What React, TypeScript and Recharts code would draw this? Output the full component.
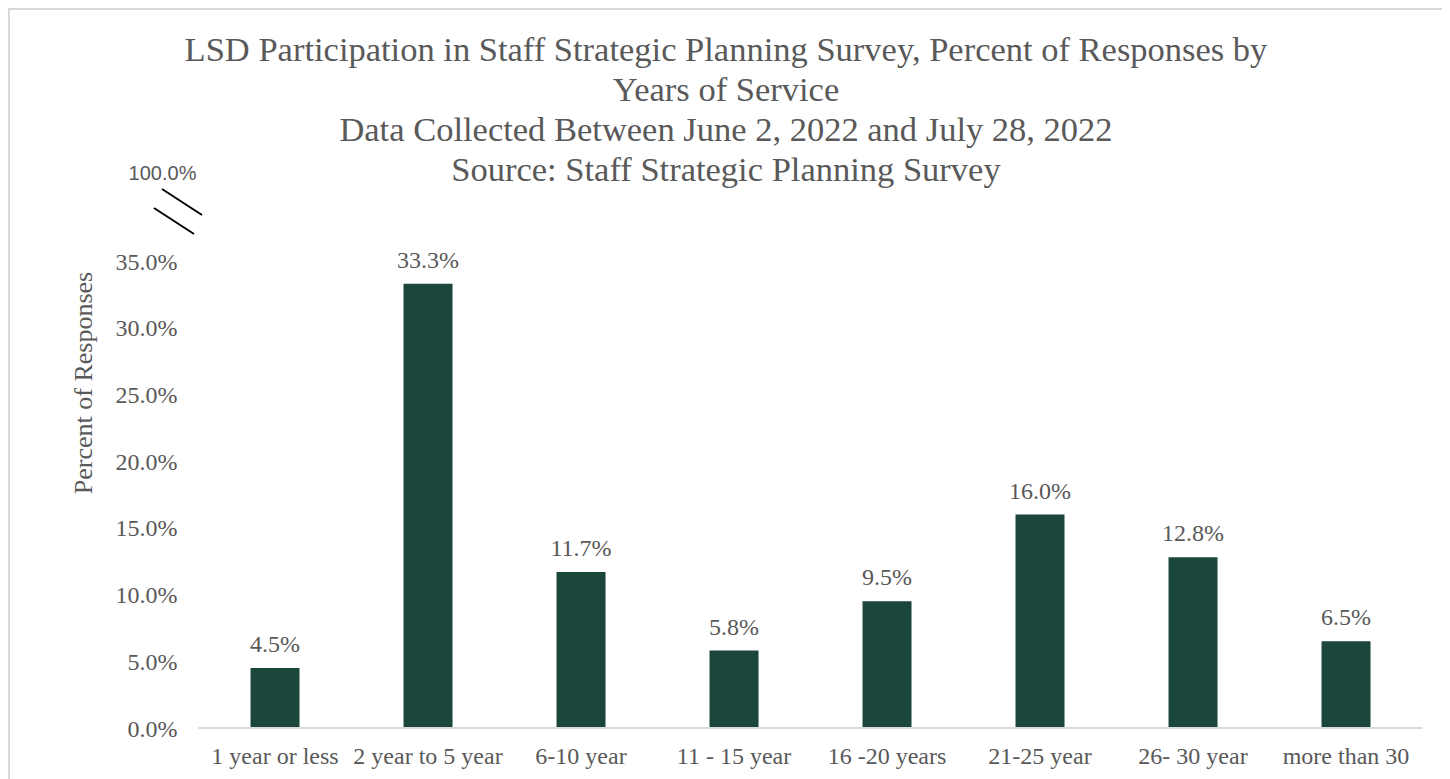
import React from "react";
import { BarChart, Bar, XAxis, YAxis, LabelList } from "recharts";

const categories = ["1 year or less", "2 year to 5 year", "6-10 year", "11 - 15 year", "16 -20 years", "21-25 year", "26- 30 year", "more than 30"];
const percents = [4.5, 33.3, 11.7, 5.8, 9.5, 16.0, 12.8, 6.5];
const yTicks = [0, 5, 10, 15, 20, 25, 30, 35];
const titleLines = [
  "LSD Participation in Staff Strategic Planning Survey, Percent of Responses by",
  "Years of Service",
  "Data Collected Between June 2, 2022 and July 28, 2022",
  "Source: Staff Strategic Planning Survey",
];
const yAxisTitle = "Percent of Responses";
const breakLabel = "100.0%";

const data = categories.map((c, i) => ({ name: c, value: percents[i] }));

const SERIF = "'Liberation Serif', 'Times New Roman', serif";
const GRAY = "#595959";

export default function App() {
  return (
    <div style={{ position: "relative", width: 1432, height: 800, border: "2px solid #d9d9d9", background: "#fff" }}>
      <div style={{ position: "absolute", left: 0, top: 19, width: 1432, textAlign: "center", fontFamily: SERIF, fontSize: 34.5, lineHeight: "40px", color: GRAY }}>
        {titleLines.map((t, i) => (
          <div key={i}>{t}</div>
        ))}
      </div>
      <div style={{ position: "absolute", left: 0, top: 0 }}>
        <BarChart width={1432} height={800} data={data} margin={{ top: 251, right: 19.5, left: 88.5, bottom: 42 }} barCategoryGap="34%">
          <XAxis dataKey="name" axisLine={{ stroke: "#d9d9d9", strokeWidth: 2 }} tickLine={false} tickSize={0} tickMargin={19} interval={0}
            tick={{ fill: GRAY, fontFamily: SERIF, fontSize: 24 }} height={40} />
          <YAxis width={100} domain={[0, 35]} ticks={yTicks} axisLine={false} tickLine={false} tickSize={0} tickMargin={21}
            tickFormatter={(v: number) => v.toFixed(1) + "%"} tick={{ fill: GRAY, fontFamily: SERIF, fontSize: 24 }} />
          <Bar dataKey="value" fill="#1a463c" isAnimationActive={false}>
            <LabelList dataKey="value" position="top" offset={16} formatter={(v: number) => v.toFixed(1) + "%"}
              style={{ fill: GRAY, fontFamily: SERIF, fontSize: 24 }} />
          </Bar>
        </BarChart>
      </div>
      <svg style={{ position: "absolute", left: 0, top: 0, pointerEvents: "none" }} width={1432} height={520}>
        <text x={152.5} y={163} textAnchor="middle" dominantBaseline="central" fill={GRAY} fontFamily="'Liberation Sans', Arial, sans-serif" fontSize={20}>{breakLabel}</text>
        <line x1={152} y1={179} x2={192} y2={205} stroke="#000" strokeWidth={2} />
        <line x1={144} y1={198} x2={184} y2={224} stroke="#000" strokeWidth={2} />
        <text x={73} y={373} transform="rotate(-90 73 373)" textAnchor="middle" dominantBaseline="central" fill={GRAY} fontFamily={SERIF} fontSize={26}>{yAxisTitle}</text>
      </svg>
    </div>
  );
}
